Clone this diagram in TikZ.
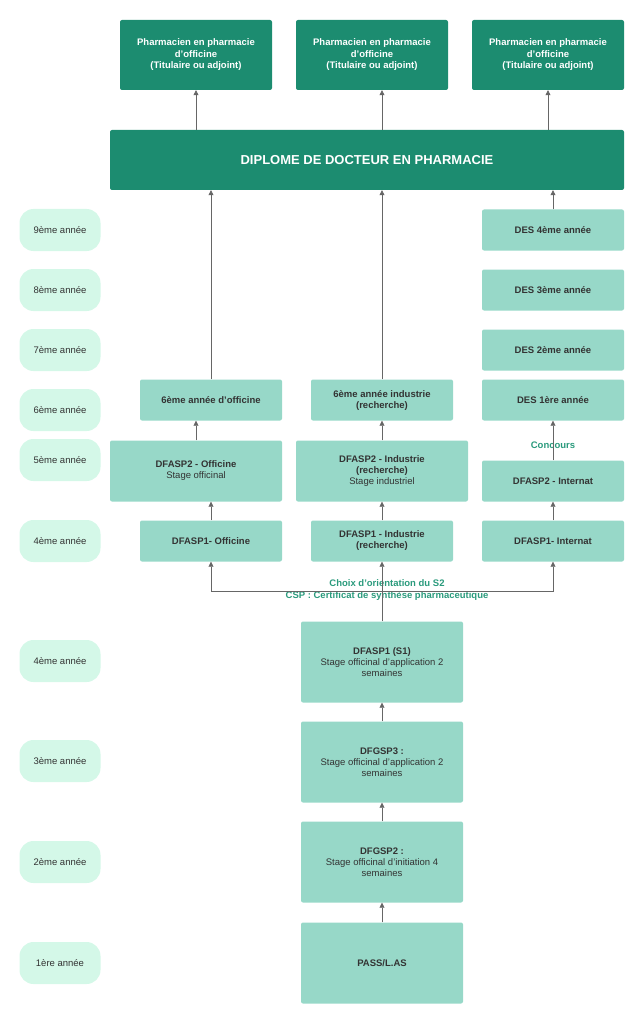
\documentclass[tikz,border=0pt]{standalone}
\usepackage{fontspec}
\setmainfont{Liberation Sans}
\usetikzlibrary{shapes,calc,arrows.meta}
\definecolor{darkgreen}{HTML}{1C8C70}
\definecolor{boxgreen}{HTML}{97D8C8}
\definecolor{pillgreen}{HTML}{D4F8E8}
\definecolor{labgreen}{HTML}{2A9A7C}
\definecolor{txt}{HTML}{333333}
\begin{document}
\begin{tikzpicture}
[x=1pt, y=-1pt, font=\fontsize{9.5}{11}\selectfont,
top/.style={rectangle, rounded corners=2pt, fill=darkgreen, text=white, font=\fontsize{9.5}{11.5}\selectfont\bfseries, minimum width=152pt, minimum height=70pt, align=center},
box/.style={rectangle, rounded corners=2pt, fill=boxgreen, text=txt, minimum width=#1, minimum height=41pt, align=center},
box/.default=142pt,
year/.style={rectangle, rounded corners=14pt, fill=pillgreen, text=txt, minimum width=81pt, minimum height=42pt},
lab/.style={text=labgreen, font=\fontsize{9.5}{11.5}\selectfont\bfseries, align=center},
arr/.style={-{Triangle[length=5pt,width=5pt]}, draw=gray!80!black, line width=0.6pt},
ln/.style={draw=gray!80!black, line width=0.6pt}]
\useasboundingbox (0,0) rectangle (643,1024);

\node (t1) at (196, 55) [top] {Pharmacien en pharmacie\\d'officine\\(Titulaire ou adjoint)};
\node (t2) at (372, 55) [top] {Pharmacien en pharmacie\\d'officine\\(Titulaire ou adjoint)};
\node (t3) at (548, 55) [top] {Pharmacien en pharmacie\\d'officine\\(Titulaire ou adjoint)};
\node (dip) at (367, 160) [top, minimum width=514pt, minimum height=60pt, font=\fontsize{13}{15}\selectfont\bfseries] {DIPLOME DE DOCTEUR EN PHARMACIE};

\node (y9) at (60, 230) [year] {9ème année};
\node (y8) at (60, 290) [year] {8ème année};
\node (y7) at (60, 350) [year] {7ème année};
\node (y6) at (60, 410) [year] {6ème année};
\node (y5) at (60, 460) [year] {5ème année};
\node (y4b) at (60, 541) [year] {4ème année};
\node (y4a) at (60, 661) [year] {4ème année};
\node (y3) at (60, 761) [year] {3ème année};
\node (y2) at (60, 862) [year] {2ème année};
\node (y1) at (60, 963) [year] {1ère année};

\node (des4) at (553, 230) [box, font=\fontsize{9.5}{11}\selectfont\bfseries] {DES 4ème année};
\node (des3) at (553, 290) [box, font=\fontsize{9.5}{11}\selectfont\bfseries] {DES 3ème année};
\node (des2) at (553, 350) [box, font=\fontsize{9.5}{11}\selectfont\bfseries] {DES 2ème année};
\node (des1) at (553, 400) [box, font=\fontsize{9.5}{11}\selectfont\bfseries] {DES 1ère année};
\node (off6) at (211, 400) [box] {\textbf{6ème année d'officine}};
\node (ind6) at (382, 400) [box] {\textbf{6ème année industrie}\\\textbf{(recherche)}};
\node (off5) at (196, 471) [box=172pt, minimum height=61pt] {\textbf{DFASP2 - Officine}\\Stage officinal};
\node (ind5) at (382, 471) [box=172pt, minimum height=61pt] {\textbf{DFASP2 - Industrie}\\\textbf{(recherche)}\\Stage industriel};
\node (int5) at (553, 481) [box] {\textbf{DFASP2 - Internat}};
\node (off4) at (211, 541) [box] {\textbf{DFASP1- Officine}};
\node (ind4) at (382, 541) [box] {\textbf{DFASP1 - Industrie}\\\textbf{(recherche)}};
\node (int4) at (553, 541) [box] {\textbf{DFASP1- Internat}};
\node (s1) at (382, 662) [box=162pt, minimum height=81pt] {\textbf{DFASP1 (S1)}\\Stage officinal d'application 2\\semaines};
\node (gsp3) at (382, 762) [box=162pt, minimum height=81pt] {\textbf{DFGSP3 :}\\Stage officinal d'application 2\\semaines};
\node (gsp2) at (382, 862) [box=162pt, minimum height=81pt] {\textbf{DFGSP2 :}\\Stage officinal d'initiation 4\\semaines};
\node (pass) at (382, 963) [box=162pt, minimum height=81pt] {\textbf{PASS/L.AS}};

\node (conc) at (553, 445) [lab] {Concours};
\node (orient) at (387, 590) [lab] {Choix d'orientation du S2\\CSP : Certificat de synthèse pharmaceutique};
\coordinate (fork) at (382, 591);

\draw [arr] (pass) -- (gsp2);
\draw [arr] (gsp2) -- (gsp3);
\draw [arr] (gsp3) -- (s1);
\draw [arr] (s1.north) -- (ind4.south);
\draw [arr] (fork) -| (off4.south);
\draw [arr] (fork) -| (int4.south);
\draw [arr] (off4.south |- off4.north) -- (off4.south |- off5.south);
\draw [arr] (ind4) -- (ind5);
\draw [arr] (int4) -- (int5);
\draw [arr] (off5.north) -- (off5.north |- off6.south);
\draw [arr] (ind5) -- (ind6);
\draw [arr] (int5) -- (des1);
\draw [arr] (off6.north) -- (off6.north |- dip.south);
\draw [arr] (ind6.north) -- (ind6.north |- dip.south);
\draw [arr] (des4.north) -- (des4.north |- dip.south);
\draw [arr] (dip.north -| t1.south) -- (t1.south);
\draw [arr] (dip.north -| ind6.north) -- (ind6.north |- t2.south);
\draw [arr] (dip.north -| t3.south) -- (t3.south);
\end{tikzpicture}
\end{document}
